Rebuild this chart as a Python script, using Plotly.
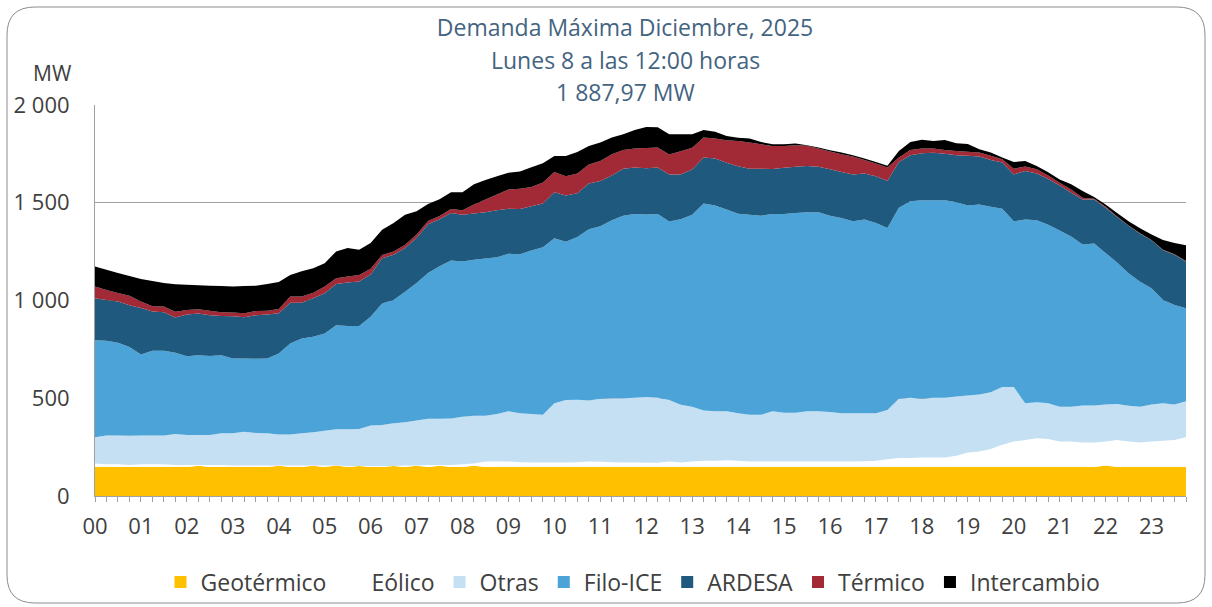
import plotly.graph_objects as go

# 15-minute intervals, hours 00:00 .. 23:45
horas = [i / 4 for i in range(96)]
etiquetas_hora = ["%02d" % (i // 4) if i % 4 == 0 else "" for i in range(96)]

geotermico = [148, 148, 148, 148, 148, 148, 148, 148, 148, 155, 148, 148, 148, 148, 148, 148,
              155, 148, 148, 155, 148, 156, 148, 154, 148, 148, 154, 148, 155, 148, 155, 148,
              148, 155, 148, 148, 148, 148, 148, 148, 148, 148, 148, 148, 148, 148, 148, 148,
              148, 148, 148, 148, 148, 148, 148, 148, 148, 148, 148, 148, 148, 148, 148, 148,
              148, 148, 148, 148, 148, 148, 148, 148, 148, 148, 148, 148, 148, 148, 148, 148,
              148, 148, 148, 148, 148, 148, 148, 148, 156, 148, 148, 148, 148, 148, 148, 148]

eolico = [18, 15, 15, 11, 15, 15, 15, 11, 10, 3, 10, 10, 8, 8, 8, 8,
          1, 8, 8, 1, 8, 0, 6, 0, 6, 6, 0, 8, 1, 10, 3, 11,
          15, 11, 28, 28, 28, 25, 23, 23, 23, 23, 25, 28, 27, 25, 23, 23,
          22, 22, 28, 23, 28, 32, 32, 35, 32, 28, 28, 28, 28, 28, 28, 28,
          28, 28, 28, 30, 32, 40, 46, 46, 49, 49, 49, 58, 75, 80, 92, 114,
          131, 138, 148, 143, 131, 131, 126, 126, 123, 138, 131, 126, 131, 135, 138, 152]

otras = [134, 146, 146, 149, 146, 146, 146, 158, 154, 154, 154, 163, 165, 173, 166, 165,
         158, 158, 165, 170, 178, 185, 187, 189, 206, 209, 218, 221, 230, 237, 237, 238,
         243, 245, 235, 243, 257, 250, 249, 245, 303, 320, 319, 312, 322, 327, 329, 331,
         336, 332, 315, 296, 281, 257, 254, 250, 243, 240, 240, 257, 250, 250, 257, 257,
         254, 247, 247, 245, 243, 252, 303, 308, 300, 305, 305, 303, 291, 291, 291, 295,
         278, 189, 183, 183, 178, 178, 189, 189, 189, 185, 183, 183, 189, 192, 182, 185]

filo_ice = [497, 485, 475, 454, 415, 434, 434, 416, 403, 408, 404, 399, 382, 374, 380, 382,
            415, 466, 485, 488, 497, 533, 528, 526, 557, 622, 631, 668, 703, 746, 780, 807,
            793, 797, 804, 802, 806, 814, 836, 857, 845, 809, 833, 877, 883, 910, 934, 941,
            934, 941, 913, 949, 982, 1059, 1052, 1032, 1021, 1023, 1018, 1009, 1016, 1021, 1018, 1018,
            1004, 999, 982, 991, 973, 931, 977, 1006, 1016, 1011, 1011, 994, 972, 972, 948, 912,
            848, 939, 931, 913, 901, 871, 823, 828, 775, 723, 677, 639, 595, 528, 509, 475]

ardesa = [214, 209, 211, 214, 237, 201, 197, 180, 214, 214, 209, 201, 216, 211, 223, 226,
          206, 209, 183, 197, 206, 211, 223, 228, 216, 231, 231, 223, 231, 249, 240, 243,
          240, 237, 237, 240, 230, 231, 226, 223, 235, 237, 223, 233, 231, 230, 240, 237,
          237, 237, 240, 228, 231, 235, 240, 240, 243, 235, 240, 231, 237, 237, 237, 233,
          237, 235, 240, 235, 240, 240, 235, 235, 240, 243, 238, 240, 254, 245, 240, 237,
          240, 249, 240, 235, 230, 223, 231, 226, 231, 233, 243, 245, 245, 254, 257, 240]

termico = [60, 51, 43, 48, 34, 26, 29, 29, 22, 21, 22, 19, 19, 21, 21, 19,
           21, 31, 31, 29, 34, 29, 31, 34, 29, 17, 17, 17, 17, 17, 17, 21,
           22, 46, 65, 81, 99, 103, 99, 108, 103, 99, 101, 98, 103, 108, 96, 98,
           103, 103, 103, 120, 111, 103, 103, 115, 129, 134, 125, 117, 111, 110, 103, 93,
           91, 91, 91, 70, 65, 69, 22, 27, 24, 21, 19, 22, 21, 21, 21, 17,
           29, 22, 21, 17, 14, 17, 9, 3, 5, 3, 2, 3, 2, 3, 2, 2]

intercambio = [103, 103, 103, 101, 115, 130, 120, 141, 129, 123, 129, 134, 134, 139, 130, 137,
               139, 111, 129, 125, 120, 137, 146, 129, 132, 129, 146, 154, 120, 86, 86, 86,
               93, 103, 99, 94, 86, 89, 101, 98, 82, 103, 111, 94, 94, 86, 81, 94,
               108, 103, 103, 86, 69, 38, 34, 22, 17, 21, 12, 9, 9, 9, 3, 5,
               7, 9, 7, 7, 7, 9, 34, 41, 45, 39, 51, 39, 39, 17, 17, 9,
               34, 29, 17, 17, 17, 26, 34, 10, 12, 17, 21, 26, 27, 50, 58, 80]

series = [
    ("Geotérmico", geotermico, "#FFC000"),
    ("Eólico", eolico, "#FFFFFF"),
    ("Otras", otras, "#C5E0F2"),
    ("Filo-ICE", filo_ice, "#4BA3D8"),
    ("ARDESA", ardesa, "#1F5A7E"),
    ("Térmico", termico, "#A12A36"),
    ("Intercambio", intercambio, "#000000"),
]

y_ticks = [0, 500, 1000, 1500, 2000]
y_tick_labels = ["0", "500", "1 000", "1 500", "2 000"]

FONT = "Open Sans"
TXT = "#404040"
TITLE_COLOR = "#44647F"

fig = go.Figure()
for name, vals, col in series:
    fig.add_trace(go.Scatter(x=horas, y=vals, name=name, stackgroup="uno", mode="none",
                             fillcolor=col, showlegend=False, hoverinfo="x+y+name"))
for name, vals, col in series:
    fig.add_trace(go.Scatter(x=[None], y=[None], name=name, mode="markers",
                             marker=dict(symbol="square", size=14, color=col),
                             showlegend=True))

W, H = 1212, 607
L, R, T, B = 95, 26, 105, 111
PW, PH = W - L - R, H - T - B


def px(xp):
    return (xp - L) / PW


def py(yp):
    return (H - B - yp) / PH


x0, x1, y0, y1, r = 7, 1205, 7, 603, 28
border = (f"M {px(x0 + r)},{py(y0)} L {px(x1 - r)},{py(y0)} Q {px(x1)},{py(y0)} {px(x1)},{py(y0 + r)} "
          f"L {px(x1)},{py(y1 - r)} Q {px(x1)},{py(y1)} {px(x1 - r)},{py(y1)} "
          f"L {px(x0 + r)},{py(y1)} Q {px(x0)},{py(y1)} {px(x0)},{py(y1 - r)} "
          f"L {px(x0)},{py(y0 + r)} Q {px(x0)},{py(y0)} {px(x0 + r)},{py(y0)} Z")

fig.update_layout(
    width=W, height=H, autosize=False,
    margin=dict(l=L, r=R, t=T, b=B),
    paper_bgcolor="white", plot_bgcolor="white",
    font=dict(family=FONT, size=22, color=TXT),
    title=dict(text="Demanda Máxima Diciembre, 2025", x=625 / W, xanchor="center",
               y=1 - 28 / H, yanchor="middle", yref="container",
               font=dict(family=FONT, size=23, color=TITLE_COLOR)),
    showlegend=True,
    legend=dict(orientation="h", xref="container", yref="container", traceorder="normal",
                x=633 / W, xanchor="center", y=1 - 582 / H, yanchor="middle",
                font=dict(family=FONT, size=23, color=TXT), itemsizing="constant",
                bgcolor="rgba(0,0,0,0)"),
    shapes=[dict(type="path", xref="paper", yref="paper", path=border,
                 line=dict(color="#8C8C8C", width=1), fillcolor="rgba(0,0,0,0)", layer="above")],
    annotations=[
        dict(text="Lunes 8 a las 12:00 horas", xref="paper", yref="paper", x=px(625), y=py(60),
             xanchor="center", yanchor="middle", showarrow=False,
             font=dict(family=FONT, size=23, color=TITLE_COLOR)),
        dict(text="1 887,97 MW", xref="paper", yref="paper", x=px(625), y=py(92),
             xanchor="center", yanchor="middle", showarrow=False,
             font=dict(family=FONT, size=23, color=TITLE_COLOR)),
        dict(text="MW", xref="paper", yref="paper", x=px(52), y=py(73),
             xanchor="center", yanchor="middle", showarrow=False,
             font=dict(family=FONT, size=21, color=TXT)),
    ],
)

fig.update_xaxes(range=[0, 23.75], tickmode="array", tickvals=horas, ticktext=etiquetas_hora,
                 ticks="outside", ticklen=5, tickcolor="#A0A0A0", tickwidth=1,
                 showline=True, linecolor="#A0A0A0", linewidth=1, showgrid=False, zeroline=False,
                 ticklabelstandoff=6, tickfont=dict(family=FONT, size=22, color=TXT))
fig.update_yaxes(range=[0, 2000], tickmode="array", tickvals=y_ticks, ticktext=y_tick_labels,
                 ticks="", showline=True, linecolor="#A0A0A0", linewidth=1,
                 showgrid=True, gridcolor="#A0A0A0", gridwidth=1, zeroline=False,
                 ticklabelstandoff=20, tickfont=dict(family=FONT, size=22, color=TXT))

fig.write_html("out.html", config={"displayModeBar": False},
               post_script="document.body.style.margin='0';")
